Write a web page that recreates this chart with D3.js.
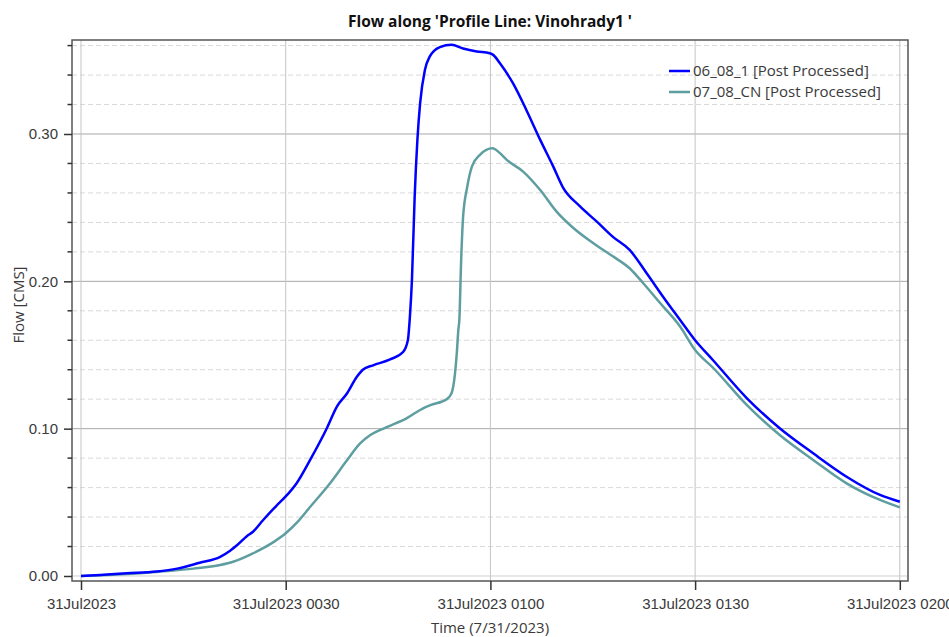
<!DOCTYPE html>
<html>
<head>
<meta charset="utf-8">
<script src="https://cdn.jsdelivr.net/npm/d3@7"></script>
<style>
  body { margin: 0; background: #fff; }
  svg { display: block; font-family: "Open Sans", "Noto Sans", sans-serif; }
</style>
</head>
<body>
<svg id="chart" width="949" height="637"></svg>
<script>
// Flow hydrographs along the Vinohrady1 profile line (minutes after 31Jul2023 0000)
const seriesNames = ["06_08_1 [Post Processed]", "07_08_CN [Post Processed]"];
const seriesColors = ["#0000ff", "#5f9ea0"];

const runAMinutes = [0, 2.8, 6.7, 11.1, 14.1, 17.4, 20.4, 21.8, 22.9, 24.3, 25.2, 26.7, 28.7, 30.0,
  31.6, 33.6, 36.1, 37.5, 39.0, 40.4, 41.3, 42.8, 45.3, 47.2, 47.9, 48.2, 48.5, 48.9, 49.3, 49.7,
  50.4, 51.1, 52.6, 54.3, 56.0, 58.0, 59.9, 60.4, 61.4, 63.3, 65.3, 67.3, 69.2, 70.6, 73.1, 75.6,
  78.0, 80.4, 82.9, 85.3, 87.8, 90.0, 92.6, 97.6, 102.4, 107.3, 112.2, 117.1, 120];
const runAFlow = [0.000, 0.0007, 0.0018, 0.003, 0.005, 0.009, 0.013, 0.017, 0.021, 0.027, 0.030, 0.038,
  0.048, 0.054, 0.063, 0.079, 0.101, 0.115, 0.124, 0.135, 0.140, 0.143, 0.147, 0.152, 0.160, 0.176,
  0.201, 0.2575, 0.296, 0.321, 0.3435, 0.3525, 0.359, 0.3605, 0.358, 0.356, 0.3548, 0.3537, 0.348,
  0.3345, 0.316, 0.296, 0.278, 0.264, 0.251, 0.2405, 0.230, 0.2213, 0.2055, 0.1896, 0.1738, 0.160,
  0.1466, 0.1206, 0.1003, 0.0833, 0.0674, 0.055, 0.0504];

const runBMinutes = [0, 6.7, 11.6, 16.5, 20.4, 22.3, 25.2, 28.2, 30.0, 31.6, 33.6, 36.5, 38.9, 40.9,
  42.4, 44.8, 47.7, 50.2, 51.2, 53.6, 54.3, 54.8, 55.07, 55.3, 55.45, 55.7, 56.0, 56.6, 57.3, 58.5,
  60.3, 61.4, 62.4, 64.8, 67.3, 69.7, 72.2, 75.1, 78.0, 80.4, 82.4, 84.9, 87.8, 90.0, 92.7, 97.6,
  102.4, 107.3, 112.2, 117.1, 120];
const runBFlow = [0.000, 0.0013, 0.003, 0.005, 0.0075, 0.0097, 0.0154, 0.023, 0.029, 0.036, 0.047,
  0.063, 0.078, 0.090, 0.0957, 0.101, 0.107, 0.114, 0.116, 0.120, 0.124, 0.137, 0.151, 0.167, 0.174,
  0.2125, 0.244, 0.264, 0.278, 0.286, 0.2903, 0.287, 0.2824, 0.2745, 0.262, 0.2473, 0.236, 0.2258,
  0.2168, 0.2089, 0.1987, 0.1851, 0.1693, 0.1534, 0.141, 0.116, 0.0957, 0.0788, 0.0629, 0.0516, 0.0466];

const xTickMinutes = [0, 30, 60, 90, 120];
const yMajorTicks = [0, 0.1, 0.2, 0.3];
const yMinorTicks = [0.02, 0.04, 0.06, 0.08, 0.12, 0.14, 0.16, 0.18, 0.22, 0.24, 0.26, 0.28, 0.32, 0.34, 0.36];

const start = Date.UTC(2023, 6, 31, 0, 0);
const toDate = m => new Date(start + m * 60000);

const svg = d3.select("#chart");
const plotLeft = 72, plotRight = 908, plotTop = 40, plotBottom = 581;
const labelSize = "15px";
const textColor = "#3a3a3a";

const x = d3.scaleUtc()
  .domain([toDate(-1.32), toDate(121.2)])
  .range([plotLeft, plotRight]);
const y = d3.scaleLinear()
  .domain([-0.0034, 0.3638])
  .range([plotBottom, plotTop]);

const fmtDay = d3.utcFormat("%d%b%Y");
const fmtFull = d3.utcFormat("%d%b%Y %H%M");
const tickFormat = d => (d.getUTCHours() === 0 && d.getUTCMinutes() === 0) ? fmtDay(d) : fmtFull(d);

// minor horizontal grid (dashed)
svg.append("g").selectAll("line").data(yMinorTicks).join("line")
  .attr("x1", plotLeft).attr("x2", plotRight)
  .attr("y1", d => y(d)).attr("y2", d => y(d))
  .attr("stroke", "#d9d9d9").attr("stroke-width", 1)
  .attr("stroke-dasharray", "5,3");

// major horizontal grid
svg.append("g").selectAll("line").data(yMajorTicks).join("line")
  .attr("x1", plotLeft).attr("x2", plotRight)
  .attr("y1", d => y(d)).attr("y2", d => y(d))
  .attr("stroke", d => d === 0 ? "#d0d0d0" : "#a8a8a8").attr("stroke-width", 1);

// vertical grid
svg.append("g").selectAll("line").data(xTickMinutes).join("line")
  .attr("x1", d => x(toDate(d))).attr("x2", d => x(toDate(d)))
  .attr("y1", plotTop).attr("y2", plotBottom)
  .attr("stroke", "#c4c4c4").attr("stroke-width", 1);

// plot frame
svg.append("rect")
  .attr("x", plotLeft).attr("y", plotTop)
  .attr("width", plotRight - plotLeft).attr("height", plotBottom - plotTop)
  .attr("fill", "none").attr("stroke", "#555").attr("stroke-width", 1.5);

svg.append("clipPath").attr("id", "plotClip")
  .append("rect").attr("x", plotLeft).attr("y", plotTop)
  .attr("width", plotRight - plotLeft).attr("height", plotBottom - plotTop);

// series
const line = d3.line()
  .x(d => x(toDate(d[0])))
  .y(d => y(d[1]))
  .curve(d3.curveMonotoneX);

const seriesData = [
  d3.zip(runAMinutes, runAFlow),
  d3.zip(runBMinutes, runBFlow)
];

const plot = svg.append("g").attr("clip-path", "url(#plotClip)");
// draw the teal series first so the blue one sits on top
[1, 0].forEach(i => {
  plot.append("path")
    .datum(seriesData[i])
    .attr("fill", "none")
    .attr("stroke", seriesColors[i])
    .attr("stroke-width", 2.5)
    .attr("stroke-linejoin", "round")
    .attr("d", line);
});

// y axis
const yAxis = d3.axisLeft(y)
  .tickValues(yMajorTicks)
  .tickFormat(d3.format(".2f"))
  .tickSize(8).tickPadding(6);
const gy = svg.append("g").attr("transform", `translate(${plotLeft},0)`).call(yAxis);
gy.select(".domain").remove();
gy.selectAll(".tick line").attr("stroke", "#333").attr("stroke-width", 1.5);
gy.selectAll(".tick text").attr("fill", textColor).style("font-size", labelSize);

svg.append("g").selectAll("line").data(yMinorTicks).join("line")
  .attr("x1", plotLeft - 4.5).attr("x2", plotLeft)
  .attr("y1", d => y(d)).attr("y2", d => y(d))
  .attr("stroke", "#333").attr("stroke-width", 1.5);

// x axis
const xAxis = d3.axisBottom(x)
  .tickValues(xTickMinutes.map(toDate))
  .tickFormat(tickFormat)
  .tickSize(9).tickPadding(8);
const gx = svg.append("g").attr("transform", `translate(0,${plotBottom})`).call(xAxis);
gx.select(".domain").remove();
gx.selectAll(".tick line").attr("stroke", "#333").attr("stroke-width", 1.5);
gx.selectAll(".tick text").attr("fill", textColor).style("font-size", labelSize);

// axis titles
svg.append("text")
  .attr("x", 490).attr("y", 633)
  .attr("text-anchor", "middle")
  .attr("fill", textColor).style("font-size", labelSize)
  .text("Time (7/31/2023)");

svg.append("text")
  .attr("transform", "translate(24,305) rotate(-90)")
  .attr("text-anchor", "middle")
  .attr("fill", textColor).style("font-size", labelSize)
  .text("Flow [CMS]");

// title
svg.append("text")
  .attr("x", 490).attr("y", 27)
  .attr("text-anchor", "middle")
  .attr("fill", "#111").style("font-size", "15.5px").style("font-weight", "bold")
  .text("Flow along 'Profile Line: Vinohrady1 '");

// legend
const legend = svg.append("g").selectAll("g").data(seriesNames).join("g")
  .attr("transform", (d, i) => `translate(669,${71 + i * 21})`);
legend.append("line")
  .attr("x1", 0).attr("x2", 21).attr("y1", 0).attr("y2", 0)
  .attr("stroke", (d, i) => seriesColors[i]).attr("stroke-width", 2.5);
legend.append("text")
  .attr("x", 24).attr("y", 0).attr("dy", "0.35em")
  .attr("fill", textColor).style("font-size", labelSize)
  .text(d => d);
</script>
</body>
</html>
